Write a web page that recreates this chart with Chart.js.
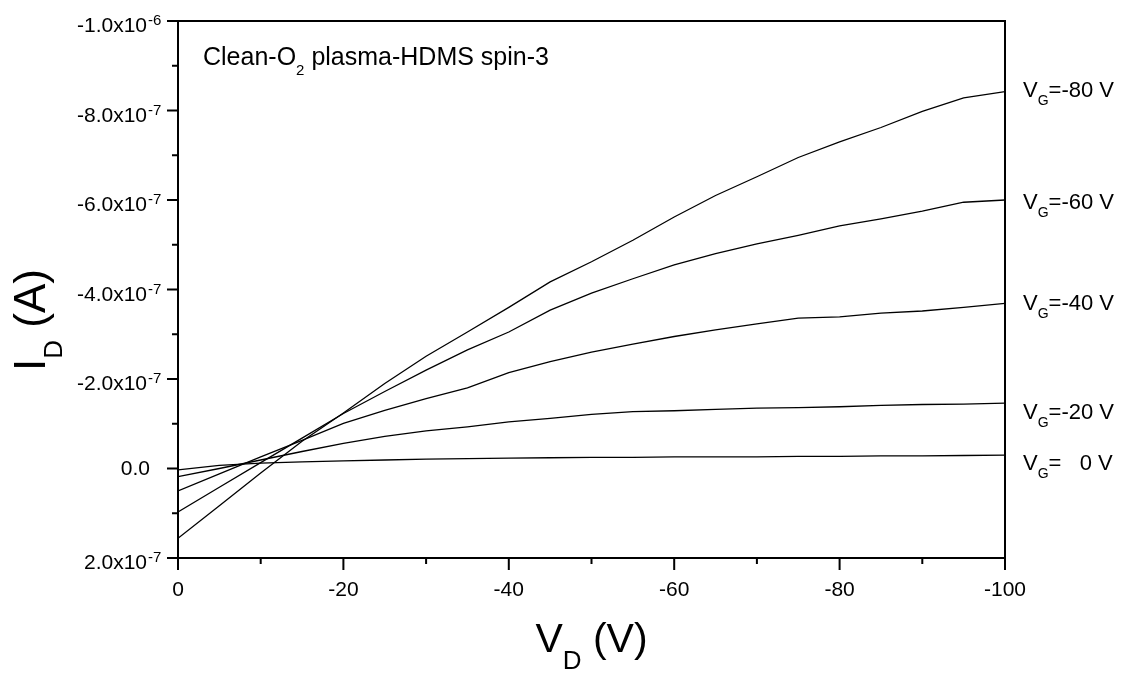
<!DOCTYPE html>
<html>
<head>
<meta charset="utf-8">
<script src="https://cdn.jsdelivr.net/npm/chart.js@4.4.1/dist/chart.umd.min.js"></script>
<style>
  html, body { margin: 0; padding: 0; background: #fff; }
  canvas { display: block; }
</style>
</head>
<body>
<canvas id="chart" width="1133" height="673"></canvas>
<script>
// drain voltage sweep (V)
const vd = [0, -5, -10, -15, -20, -25, -30, -35, -40, -45, -50, -55, -60, -65, -70, -75, -80, -85, -90, -95, -100];

// drain current, in units of 1e-7 A
const idVg0  = [0.03, -0.07, -0.12, -0.15, -0.17, -0.19, -0.21, -0.22, -0.23, -0.24, -0.25, -0.25, -0.26, -0.26, -0.26, -0.27, -0.27, -0.28, -0.28, -0.29, -0.30];
const idVg20 = [0.18, 0.00, -0.19, -0.38, -0.56, -0.72, -0.84, -0.93, -1.04, -1.12, -1.21, -1.27, -1.29, -1.32, -1.35, -1.36, -1.38, -1.41, -1.43, -1.44, -1.46];
const idVg40 = [0.50, 0.12, -0.26, -0.63, -1.01, -1.30, -1.56, -1.80, -2.14, -2.39, -2.60, -2.78, -2.95, -3.10, -3.23, -3.36, -3.39, -3.47, -3.52, -3.60, -3.69];
const idVg60 = [0.97, 0.42, -0.13, -0.68, -1.23, -1.72, -2.20, -2.65, -3.05, -3.54, -3.92, -4.24, -4.55, -4.80, -5.02, -5.21, -5.42, -5.58, -5.75, -5.95, -6.00];
const idVg80 = [1.56, 0.83, 0.10, -0.61, -1.24, -1.90, -2.51, -3.05, -3.60, -4.17, -4.62, -5.10, -5.62, -6.10, -6.52, -6.95, -7.30, -7.62, -7.98, -8.28, -8.42];
const UNIT = 1e-7;

// curve labels on the right (gate voltage) and where they sit, in 1e-7 A
const vgNames = ['-80', '-60', '-40', '-20', '   0'];
const vgLabelAt = [-8.49, -5.98, -3.72, -1.29, -0.15];

// axis ticks
const yMajor = [-10, -8, -6, -4, -2, 0, 2];
const yMantissa = ['-1.0x10', '-8.0x10', '-6.0x10', '-4.0x10', '-2.0x10', '0.0', '2.0x10'];
const yExponent = ['-6', '-7', '-7', '-7', '-7', '', '-7'];
const xMajor = [0, -20, -40, -60, -80, -100];
const xTickText = ['0', '-20', '-40', '-60', '-80', '-100'];

const FONT = '"Liberation Sans", Arial, Helvetica, sans-serif';

function toPoints(arr) {
    return vd.map((v, i) => ({ x: v, y: arr[i] * UNIT }));
}

// draws a list of text runs one after another: [text, size, baseline offset]
function drawRuns(ctx, runs, x, y, align) {
    let total = 0;
    runs.forEach(r => {
        ctx.font = r[1] + 'px ' + FONT;
        total += ctx.measureText(r[0]).width;
    });
    let cx = x;
    if (align === 'center') cx = x - total / 2;
    if (align === 'right') cx = x - total;
    ctx.textAlign = 'left';
    ctx.textBaseline = 'alphabetic';
    runs.forEach(r => {
        ctx.font = r[1] + 'px ' + FONT;
        ctx.fillText(r[0], cx, y + (r[2] || 0));
        cx += ctx.measureText(r[0]).width;
    });
}

const decor = {
    id: 'decor',
    afterDraw(chart) {
        const { ctx, chartArea: a, scales: { x, y } } = chart;
        ctx.save();
        ctx.strokeStyle = '#000';
        ctx.fillStyle = '#000';

        // frame
        ctx.lineWidth = 2;
        ctx.strokeRect(a.left, a.top, a.right - a.left, a.bottom - a.top);

        // y ticks, major + minor halfway
        ctx.beginPath();
        yMajor.forEach((v, i) => {
            const py = y.getPixelForValue(v * UNIT);
            ctx.moveTo(a.left, py); ctx.lineTo(a.left - 11, py);
            if (i < yMajor.length - 1) {
                const pm = y.getPixelForValue((v + yMajor[i + 1]) / 2 * UNIT);
                ctx.moveTo(a.left, pm); ctx.lineTo(a.left - 6, pm);
            }
        });
        // x ticks
        xMajor.forEach((v, i) => {
            const px = x.getPixelForValue(v);
            ctx.moveTo(px, a.bottom); ctx.lineTo(px, a.bottom + 12);
            if (i < xMajor.length - 1) {
                const pm = x.getPixelForValue((v + xMajor[i + 1]) / 2);
                ctx.moveTo(pm, a.bottom); ctx.lineTo(pm, a.bottom + 6);
            }
        });
        ctx.stroke();

        // y tick labels with superscript exponent
        yMajor.forEach((v, i) => {
            const py = y.getPixelForValue(v * UNIT);
            ctx.font = '21px ' + FONT;
            ctx.textAlign = 'right';
            ctx.textBaseline = 'alphabetic';
            if (yExponent[i]) {
                ctx.fillText(yMantissa[i], a.left - 31, py + 11);
                ctx.font = '15px ' + FONT;
                ctx.textAlign = 'left';
                ctx.fillText(yExponent[i], a.left - 30, py + 4);
            } else {
                ctx.fillText(yMantissa[i], a.left - 28, py + 6);
            }
        });

        // x tick labels
        ctx.font = '21px ' + FONT;
        ctx.textAlign = 'center';
        xMajor.forEach((v, i) => {
            ctx.fillText(xTickText[i], x.getPixelForValue(v), a.bottom + 38);
        });

        // axis titles
        drawRuns(ctx, [['V', 41], ['D', 26, 17], [' (V)', 41]], (a.left + a.right) / 2, 652, 'center');
        ctx.save();
        ctx.translate(45, 320);
        ctx.rotate(-Math.PI / 2);
        drawRuns(ctx, [['I', 44], ['D', 26, 17], [' (A)', 44]], 0, 0, 'center');
        ctx.restore();

        // sample note
        drawRuns(ctx, [['Clean-O', 25], ['2', 15, 10], [' plasma-HDMS spin-3', 25]], a.left + 25, a.top + 44, 'left');

        // gate voltage labels
        vgNames.forEach((name, i) => {
            const py = y.getPixelForValue(vgLabelAt[i] * UNIT);
            drawRuns(ctx, [['V', 22], ['G', 14, 8], ['=' + name + ' V', 22]], a.right + 18, py + 8, 'left');
        });

        ctx.restore();
    }
};

const lineStyle = { borderColor: '#000', borderWidth: 1.3, pointRadius: 0, tension: 0, fill: false };

new Chart(document.getElementById('chart'), {
    type: 'line',
    data: {
        datasets: [
            { label: 'VG=0 V', data: toPoints(idVg0), ...lineStyle },
            { label: 'VG=-20 V', data: toPoints(idVg20), ...lineStyle },
            { label: 'VG=-40 V', data: toPoints(idVg40), ...lineStyle },
            { label: 'VG=-60 V', data: toPoints(idVg60), ...lineStyle },
            { label: 'VG=-80 V', data: toPoints(idVg80), ...lineStyle }
        ]
    },
    options: {
        responsive: false,
        devicePixelRatio: 1,
        animation: false,
        layout: { padding: { left: 178, top: 21, right: 128, bottom: 115 } },
        plugins: { legend: { display: false }, tooltip: { enabled: false } },
        scales: {
            x: { type: 'linear', min: -100, max: 0, reverse: true, display: false },
            y: { type: 'linear', min: -10 * UNIT, max: 2 * UNIT, reverse: true, display: false }
        }
    },
    plugins: [decor]
});
</script>
</body>
</html>
